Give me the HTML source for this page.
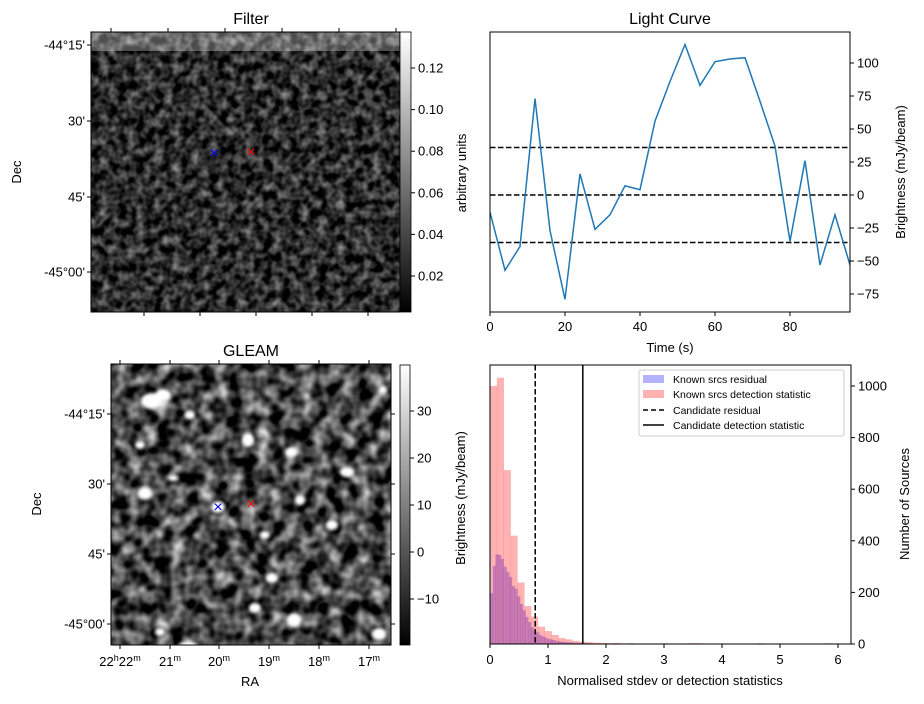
<!DOCTYPE html>
<html><head><meta charset="utf-8"><style>
body{margin:0;background:#fff}
svg text{font-family:"Liberation Sans","DejaVu Sans",sans-serif;fill:#000}
</style></head><body>
<svg id="fig" width="924" height="699" viewBox="0 0 924 699" xmlns="http://www.w3.org/2000/svg">
<defs>
<filter id="noiseF" x="0" y="0" width="100%" height="100%" color-interpolation-filters="sRGB"><feTurbulence type="fractalNoise" baseFrequency="0.11" numOctaves="2" seed="4"/><feColorMatrix type="matrix" values="0.95 0 0 0 -0.3  0.95 0 0 0 -0.3  0.95 0 0 0 -0.3  0 0 0 0 1"/></filter>
<filter id="noiseG" x="0" y="0" width="100%" height="100%" color-interpolation-filters="sRGB"><feTurbulence type="fractalNoise" baseFrequency="0.07" numOctaves="2" seed="9"/><feColorMatrix type="matrix" values="1.5 0 0 0 -0.47  1.5 0 0 0 -0.47  1.5 0 0 0 -0.47  0 0 0 0 1"/></filter>
<filter id="blur3"><feGaussianBlur stdDeviation="1.6"/></filter>
<linearGradient id="gray" x1="0" y1="1" x2="0" y2="0"><stop offset="0" stop-color="#000"/><stop offset="1" stop-color="#fff"/></linearGradient>
<clipPath id="clipG"><rect x="111" y="364" width="280" height="281"/></clipPath>
<clipPath id="clipL"><rect x="490" y="32" width="360" height="280"/></clipPath>
</defs>

<g>
<text x="251" y="24" font-size="16" text-anchor="middle">Filter</text>
<rect x="91" y="32" width="309" height="280" filter="url(#noiseF)"/>
<rect x="91" y="32" width="309" height="19" fill="#fff" opacity="0.3"/>
<rect x="91" y="32" width="309" height="280" fill="none" stroke="#000"/>
<rect x="400" y="32" width="11" height="280" fill="url(#gray)" stroke="#000" stroke-width="0.8"/>
<g id="filterTicks"></g>
<text x="214" y="158" font-size="16" style="fill:#00f" text-anchor="middle">×</text>
<text x="251" y="157" font-size="16" style="fill:#f00" text-anchor="middle">×</text>
<text transform="translate(21,172) rotate(-90)" font-size="13" text-anchor="middle">Dec</text>
<text transform="translate(466,173) rotate(-90)" font-size="13" text-anchor="middle">arbitrary units</text>
</g>

<g>
<text x="251" y="356" font-size="16" text-anchor="middle">GLEAM</text>
<rect x="111" y="364" width="280" height="281" filter="url(#noiseG)"/>
<g id="blobs" clip-path="url(#clipG)" filter="url(#blur3)"></g>
<rect x="111" y="364" width="280" height="281" fill="none" stroke="#000"/>
<rect x="400" y="365" width="10" height="280" fill="url(#gray)" stroke="#000" stroke-width="0.8"/>
<g id="gleamTicks"></g>
<text x="218" y="512" font-size="16" style="fill:#00f" text-anchor="middle">×</text>
<text x="251" y="509" font-size="16" style="fill:#f00" text-anchor="middle">×</text>
<text transform="translate(41,504) rotate(-90)" font-size="13" text-anchor="middle">Dec</text>
<text x="250" y="686" font-size="13" text-anchor="middle">RA</text>
<text transform="translate(465,498) rotate(-90)" font-size="13" text-anchor="middle">Brightness (mJy/beam)</text>
</g>

<g>
<text x="670" y="24" font-size="16" text-anchor="middle">Light Curve</text>
<g id="lc" clip-path="url(#clipL)"></g>
<rect x="490" y="32" width="360" height="280" fill="none" stroke="#000"/>
<g id="lcTicks"></g>
<text x="670" y="352" font-size="13" text-anchor="middle">Time (s)</text>
<text transform="translate(905,172) rotate(-90)" font-size="13" text-anchor="middle">Brightness (mJy/beam)</text>
</g>

<g>
<g id="hist"></g>
<rect x="490" y="365" width="361" height="279" fill="none" stroke="#000"/>
<g id="histTicks"></g>
<text x="670" y="685" font-size="13" text-anchor="middle">Normalised stdev or detection statistics</text>
<text transform="translate(909,504) rotate(-90)" font-size="13" text-anchor="middle">Number of Sources</text>
<g>
<rect x="639" y="370" width="205" height="66" fill="#fff" fill-opacity="0.8" stroke="#ccc" rx="2"/>
<rect x="643" y="375" width="21" height="8" fill="#00f" fill-opacity="0.3"/>
<text x="673" y="383" font-size="10.5">Known srcs residual</text>
<rect x="643" y="390" width="21" height="8" fill="#f00" fill-opacity="0.3"/>
<text x="673" y="398" font-size="10.5">Known srcs detection statistic</text>
<line x1="643" y1="410" x2="664" y2="410" stroke="#000" stroke-width="1.5" stroke-dasharray="5,3"/>
<text x="673" y="414" font-size="10.5">Candidate residual</text>
<line x1="643" y1="425" x2="664" y2="425" stroke="#000" stroke-width="1.5"/>
<text x="673" y="429" font-size="10.5">Candidate detection statistic</text>
</g>
</g>
</svg>
<script>
const NS="http://www.w3.org/2000/svg";
const lcTimes=[0,4,8,12,16,20,24,28,32,36,40,44,48,52,56,60,64,68,72,76,80,84,88,92,96];
const lcValues=[-13,-57,-39,73,-27,-79,16,-26,-15,7,4,56,86,114,83,101,103,104,71,37,-35,26,-53,-15,-53];
const lcThresholds=[36,0,-36];
const lcXTicks=[0,20,40,60,80];
const lcYTicks=[100,75,50,25,0,-25,-50,-75];
const detBinWidth=0.118;
const detCounts=[1000,1032,674,420,238,147,106,67,50,35,23,18,12,9,7,5,4,3,4,2,3,2,2,2,1,3,2,1,2,3,3,1,2,1,2,1,1,1,2,3,1,0,1,0,1,0,0,0,0,3];
const resBinWidth=0.047;
const resCounts=[197,303,348,345,330,300,280,260,225,215,185,155,130,105,85,65,50,45,35,30,25,20,18,15,12,10,9,8,7,6,5,5,4,4,3,3,3,2,2,2,2,1,1,2,1,1,1,1,1,2,1,1,2];
const candResidual=0.78, candDetection=1.6;
const histXTicks=[0,1,2,3,4,5,6];
const histYTicks=[0,200,400,600,800,1000];
const filterCbTicks=["0.02","0.04","0.06","0.08","0.10","0.12"];
const filterCbVals=[0.02,0.04,0.06,0.08,0.10,0.12];
const gleamCbVals=[-10,0,10,20,30];
const decLabels=["-44°15'","30'","45'","-45°00'"];
const raLabels=["22h22m","21m","20m","19m","18m","17m"];

function el(tag,attrs,parent,txt){const e=document.createElementNS(NS,tag);for(const k in attrs)e.setAttribute(k,attrs[k]);if(txt!==undefined)e.textContent=txt;parent.appendChild(e);return e;}

const lx=t=>490+t*3.75, ly=v=>195-v*1.32;
const lc=document.getElementById('lc');
lcThresholds.forEach((v,i)=>{const l=el('line',{x1:490,x2:850,y1:ly(v),y2:ly(v),stroke:'#000','stroke-width':1.5,'stroke-dasharray':'5.5,2.5'},lc);

});
const pl=el('polyline',{points:lcTimes.map((t,i)=>lx(t)+','+ly(lcValues[i])).join(' '),fill:'none',stroke:'#1f77b4','stroke-width':1.5},lc);


const lt=document.getElementById('lcTicks');
lcXTicks.forEach(t=>{el('line',{x1:lx(t),x2:lx(t),y1:312,y2:316,stroke:'#000'},lt);
const tx=el('text',{x:lx(t),y:331,'font-size':13,'text-anchor':'middle'},lt,t);

});
lcYTicks.forEach(v=>{el('line',{x1:850,x2:854,y1:ly(v),y2:ly(v),stroke:'#000'},lt);
const tx=el('text',{x:857,y:ly(v)+4.5,'font-size':13},lt,v<0?'\u2212'+(-v):v);

});

const hx=v=>490+v*58, hy=c=>644-c*0.258;
const hg=document.getElementById('hist');
resCounts.forEach((c,i)=>{if(!c)return;const r=el('rect',{x:hx(i*resBinWidth),y:hy(c),width:resBinWidth*58+0.3,height:644-hy(c),fill:'#00f','fill-opacity':0.3},hg);

});
detCounts.forEach((c,i)=>{if(!c)return;const r=el('rect',{x:hx(i*detBinWidth),y:hy(c),width:detBinWidth*58+0.3,height:644-hy(c),fill:'#f00','fill-opacity':0.3},hg);

});
let v1=el('line',{x1:hx(candResidual),x2:hx(candResidual),y1:365,y2:644,stroke:'#000','stroke-width':1.5,'stroke-dasharray':'5.5,2.5'},hg);


let v2=el('line',{x1:hx(candDetection),x2:hx(candDetection),y1:365,y2:644,stroke:'#000','stroke-width':1.5},hg);


const ht=document.getElementById('histTicks');
histXTicks.forEach(t=>{el('line',{x1:hx(t),x2:hx(t),y1:644,y2:648,stroke:'#000'},ht);
const tx=el('text',{x:hx(t),y:664,'font-size':13,'text-anchor':'middle'},ht,t);

});
histYTicks.forEach(c=>{el('line',{x1:851,x2:855,y1:hy(c),y2:hy(c),stroke:'#000'},ht);
const tx=el('text',{x:858,y:hy(c)+4.5,'font-size':13},ht,c);

});

const ft=document.getElementById('filterTicks');
[111,168,225,282,339,396].forEach(x=>el('line',{x1:x,x2:x,y1:32,y2:28,stroke:'#000'},ft));
[144,200,256,312,368].forEach(x=>el('line',{x1:x,x2:x,y1:312,y2:316,stroke:'#000'},ft));
filterCbVals.forEach((v,i)=>{const y=276-(v-0.02)/0.02*41.6;el('line',{x1:411,x2:415,y1:y,y2:y,stroke:'#000'},ft);
const tx=el('text',{x:418,y:y+4.5,'font-size':13},ft,filterCbTicks[i]);

});
[45,121,197,272].forEach((y,i)=>{el('line',{x1:91,x2:87,y1:y,y2:y,stroke:'#000'},ft);
const tx=el('text',{x:85,y:y+4.5,'font-size':13,'text-anchor':'end'},ft,decLabels[i]);

});

const gt=document.getElementById('gleamTicks');
const gx=[120,170,219,269,319,369];
gx.forEach((x,i)=>{el('line',{x1:x,x2:x,y1:645,y2:649,stroke:'#000'},gt);el('line',{x1:x,x2:x,y1:364,y2:360,stroke:'#000'},gt);
const tx=el('text',{x:x,y:666,'font-size':13,'text-anchor':'middle'},gt);
if(raLabels[i].includes('h')){tx.textContent='22';el('tspan',{'font-size':9,dy:-5},tx,'h');el('tspan',{'font-size':13,dy:5},tx,'22');el('tspan',{'font-size':9,dy:-5},tx,'m');}
else{tx.textContent=raLabels[i].replace('m','');el('tspan',{'font-size':9,dy:-5},tx,'m');}

});
[414,484,554,624].forEach((y,i)=>{el('line',{x1:111,x2:107,y1:y,y2:y,stroke:'#000'},gt);el('line',{x1:391,x2:395,y1:y,y2:y,stroke:'#000'},gt);
const tx=el('text',{x:105,y:y+4.5,'font-size':13,'text-anchor':'end'},gt,decLabels[i]);

});
gleamCbVals.forEach(v=>{const y=552-v*4.7;el('line',{x1:410,x2:414,y1:y,y2:y,stroke:'#000'},gt);
const tx=el('text',{x:417,y:y+4.5,'font-size':13},gt,v<0?'\u2212'+(-v):v);

});

const blobs=document.getElementById('blobs');
[[152,401,11,8],[163,395,8,6],[190,415,5,4],[248,440,6,7],[291,452,6,5],[145,493,7,6],[218,507,7,6],[347,472,7,5],[300,500,5,5],[332,525,6,5],[265,535,5,4],[272,578,6,5],[294,620,7,7],[255,608,6,5],[188,649,11,8],[379,634,7,6],[160,632,5,4],[383,390,4,4],[140,445,5,4],[173,478,5,3]].forEach(b=>{
const e=el('ellipse',{cx:b[0],cy:b[1],rx:b[2],ry:b[3],fill:'#fff'},blobs);

});
</script>
</body></html>
